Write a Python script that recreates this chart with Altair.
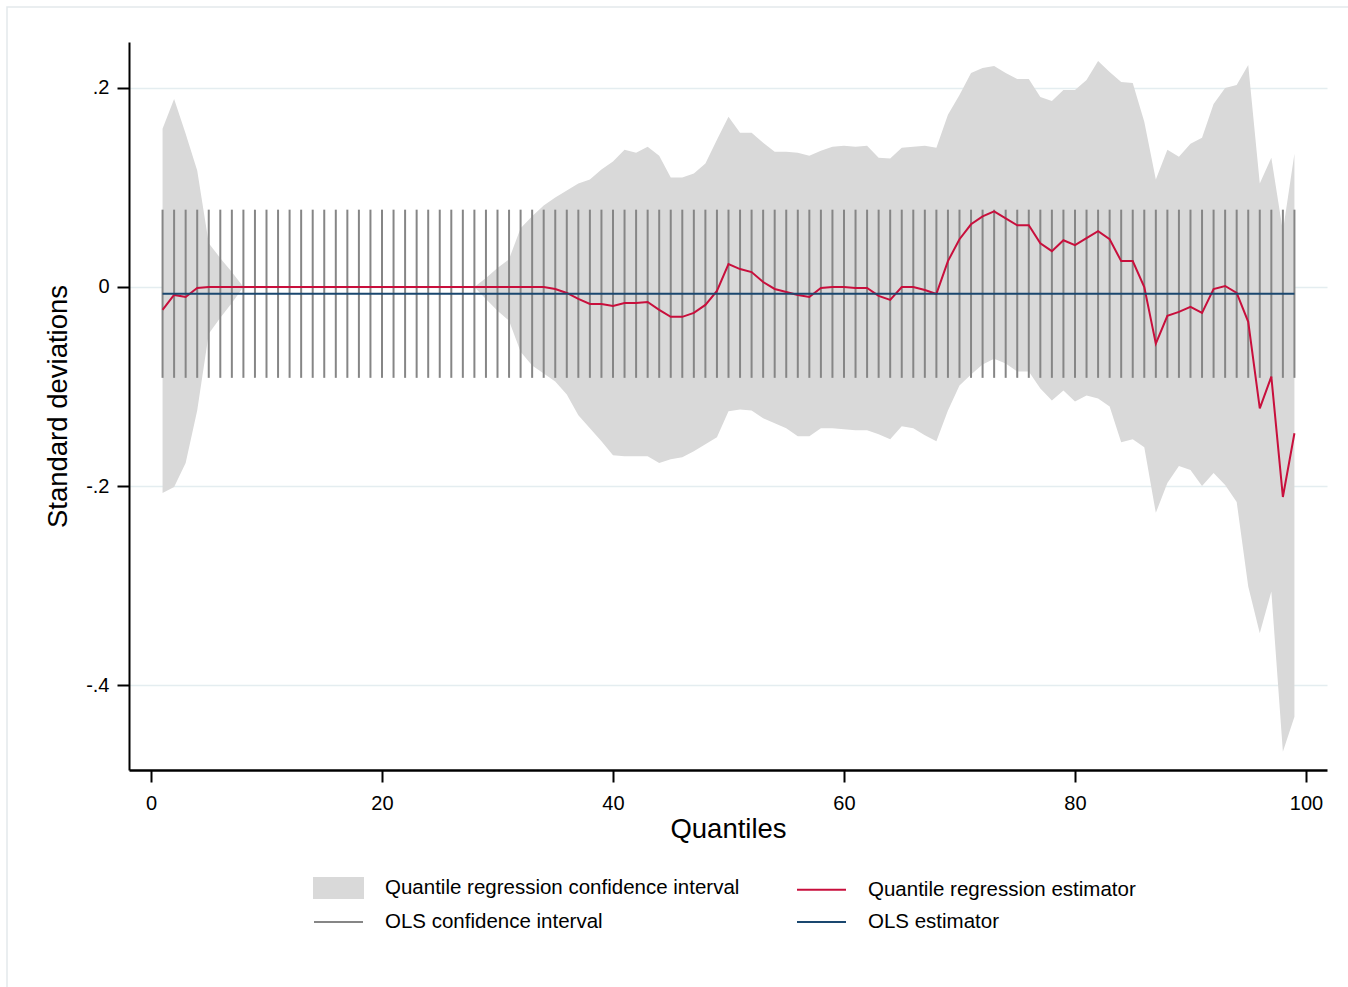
import altair as alt
import pandas as pd

FONT = "Liberation Sans"

# Quantiles at which the regressions were estimated
quantiles = list(range(1, 100))

# Quantile regression coefficient (standard deviations), quantiles 1-99
qr_estimate = [
    -0.023, -0.008, -0.010, -0.001, 0.000, 0.000, 0.000, 0.000, 0.000, 0.000,
    0.000, 0.000, 0.000, 0.000, 0.000, 0.000, 0.000, 0.000, 0.000, 0.000,
    0.000, 0.000, 0.000, 0.000, 0.000, 0.000, 0.000, 0.000, 0.000, 0.000,
    0.000, 0.000, 0.000, 0.000, -0.002, -0.006, -0.012, -0.017, -0.017, -0.019,
    -0.016, -0.016, -0.015, -0.023, -0.030, -0.030, -0.026, -0.018, -0.004, 0.023,
    0.018, 0.015, 0.005, -0.002, -0.005, -0.008, -0.010, -0.001, 0.000, 0.000,
    -0.001, -0.001, -0.009, -0.013, 0.000, 0.000, -0.003, -0.007, 0.026, 0.048,
    0.063, 0.071, 0.076, 0.069, 0.062, 0.062, 0.044, 0.036, 0.047, 0.042,
    0.049, 0.056, 0.048, 0.026, 0.026, 0.000, -0.057, -0.029, -0.025, -0.020,
    -0.026, -0.002, 0.001, -0.006, -0.035, -0.122, -0.090, -0.211, -0.147,
]

# Upper bound of the quantile regression confidence interval
qr_ci_upper = [
    0.159, 0.189, 0.154, 0.117, 0.044, 0.029, 0.015, 0.000, 0.000, 0.000,
    0.000, 0.000, 0.000, 0.000, 0.000, 0.000, 0.000, 0.000, 0.000, 0.000,
    0.000, 0.000, 0.000, 0.000, 0.000, 0.000, 0.000, 0.000, 0.009, 0.019,
    0.028, 0.059, 0.071, 0.082, 0.090, 0.097, 0.104, 0.108, 0.118, 0.126,
    0.138, 0.135, 0.141, 0.132, 0.110, 0.110, 0.114, 0.124, 0.148, 0.171,
    0.155, 0.155, 0.145, 0.136, 0.136, 0.135, 0.132, 0.137, 0.141, 0.142,
    0.141, 0.142, 0.130, 0.129, 0.140, 0.141, 0.142, 0.140, 0.173, 0.193,
    0.215, 0.220, 0.222, 0.215, 0.209, 0.209, 0.191, 0.187, 0.198, 0.198,
    0.208, 0.227, 0.216, 0.206, 0.205, 0.166, 0.108, 0.138, 0.131, 0.144,
    0.150, 0.184, 0.200, 0.203, 0.223, 0.104, 0.130, 0.056, 0.134,
]

# Lower bound of the quantile regression confidence interval
qr_ci_lower = [
    -0.207, -0.201, -0.177, -0.124, -0.047, -0.031, -0.016, 0.000, 0.000, 0.000,
    0.000, 0.000, 0.000, 0.000, 0.000, 0.000, 0.000, 0.000, 0.000, 0.000,
    0.000, 0.000, 0.000, 0.000, 0.000, 0.000, 0.000, 0.000, -0.012, -0.024,
    -0.034, -0.065, -0.079, -0.087, -0.095, -0.108, -0.129, -0.142, -0.155, -0.169,
    -0.170, -0.170, -0.170, -0.177, -0.173, -0.171, -0.165, -0.158, -0.151, -0.125,
    -0.123, -0.124, -0.132, -0.137, -0.142, -0.150, -0.150, -0.142, -0.142, -0.143,
    -0.144, -0.144, -0.148, -0.153, -0.140, -0.142, -0.149, -0.155, -0.124, -0.099,
    -0.088, -0.078, -0.072, -0.077, -0.085, -0.085, -0.102, -0.114, -0.104, -0.115,
    -0.109, -0.112, -0.120, -0.156, -0.153, -0.161, -0.227, -0.197, -0.180, -0.184,
    -0.200, -0.187, -0.199, -0.216, -0.301, -0.348, -0.306, -0.467, -0.432,
]

# OLS coefficient and its confidence interval (same at every quantile)
ols_estimate = -0.0068
ols_ci_upper = 0.0777
ols_ci_lower = -0.0913

x_ticks = [0, 20, 40, 60, 80, 100]
y_ticks = [-0.4, -0.2, 0, 0.2]
y_tick_labels = ["-.4", "-.2", "0", ".2"]

# Legend entries, listed column by column
series = [
    "Quantile regression confidence interval",
    "OLS confidence interval",
    "Quantile regression estimator",
    "OLS estimator",
]
BAND = "#d9d9d9"
RED = "#c80f3c"
GREY = "#868686"
NAVY = "#1a476f"

df = pd.DataFrame({
    "q": quantiles,
    "qr": qr_estimate,
    "hi": qr_ci_upper,
    "lo": qr_ci_lower,
})
df["ols"] = ols_estimate
df["ols_hi"] = ols_ci_upper
df["ols_lo"] = ols_ci_lower

x_scale = alt.Scale(domain=[-1.905, 101.82], nice=False, zero=False)
y_scale = alt.Scale(domain=[-0.4854, 0.2462], nice=False, zero=False)

y_label_expr = " : ".join(
    f"datum.value == {v} ? '{lab}'" for v, lab in zip(y_ticks, y_tick_labels)
) + " : ''"

x_axis = alt.Axis(
    values=x_ticks, title="Quantiles", grid=False,
    domainColor="black", domainWidth=2.5, tickColor="black", tickWidth=2,
    tickSize=12, labelPadding=11, labelFontSize=20, titleFontSize=27.5,
    titlePadding=2,
)
y_axis = alt.Axis(
    values=y_ticks, labelExpr=y_label_expr, title="Standard deviations",
    grid=True, gridColor="#e4edf0", gridWidth=1.5,
    domainColor="black", domainWidth=2, tickColor="black", tickWidth=2,
    tickSize=12, labelPadding=8, labelFontSize=20, titleFontSize=27.5,
    titlePadding=13,
)

base = alt.Chart(df)

band = base.mark_area(color=BAND, opacity=1).encode(
    x=alt.X("q:Q", scale=x_scale, axis=x_axis),
    y=alt.Y("lo:Q", scale=y_scale, axis=y_axis),
    y2="hi:Q",
)

ols_ci = base.mark_rule(color=GREY, strokeWidth=2).encode(
    x="q:Q", y="ols_lo:Q", y2="ols_hi:Q",
)

qr_line = base.mark_line(color=RED, strokeWidth=2).encode(x="q:Q", y="qr:Q")
ols_line = base.mark_line(color=NAVY, strokeWidth=2).encode(x="q:Q", y="ols:Q")

# Legend: a filled swatch for the interval band, short strokes for the lines
legend_spec = alt.Legend(
    title=None, orient="none", legendX=184, legendY=835, columns=2,
    columnPadding=53, rowPadding=9, padding=0,
    labelFontSize=20.5, labelFont=FONT, labelColor="black", labelLimit=700,
    labelOffset=50, symbolSize=400, symbolStrokeWidth=2,
)
swatch = "M-1,-1H3.9V1H-1Z"
stroke_key = "M-1,0H3.9"
legend_layer = alt.Chart(pd.DataFrame({"series": series})).mark_point(
    filled=True, opacity=1
).encode(
    fill=alt.Fill("series:N", scale=alt.Scale(
        domain=series, range=[BAND, "transparent", "transparent", "transparent"]),
        legend=legend_spec),
    stroke=alt.Stroke("series:N", scale=alt.Scale(
        domain=series, range=[BAND, GREY, RED, NAVY]), legend=legend_spec),
    shape=alt.Shape("series:N", scale=alt.Scale(
        domain=series, range=[swatch, stroke_key, stroke_key, stroke_key]),
        legend=legend_spec),
).transform_filter("false")

# Light outline of the graph region
frame = alt.Chart(pd.DataFrame({"k": [0]})).mark_rect(
    fill="transparent", stroke="#e3e9eb", strokeWidth=1.5
).encode(
    x=alt.value(-122), x2=alt.value(1400), y=alt.value(-35), y2=alt.value(1100)
)

chart = alt.layer(frame, band, ols_ci, qr_line, ols_line, legend_layer).properties(
    width=1198,
    height=728,
    padding={"left": 129, "top": 42, "right": 21, "bottom": 217},
    autosize=alt.AutoSizeParams(type="none"),
    background="white",
).configure_view(
    strokeWidth=0
).configure_axis(
    labelFont=FONT, titleFont=FONT, labelColor="black", titleColor="black",
    titleFontWeight="normal",
)

chart.save("out.html", embed_options={"renderer": "svg", "actions": False})
